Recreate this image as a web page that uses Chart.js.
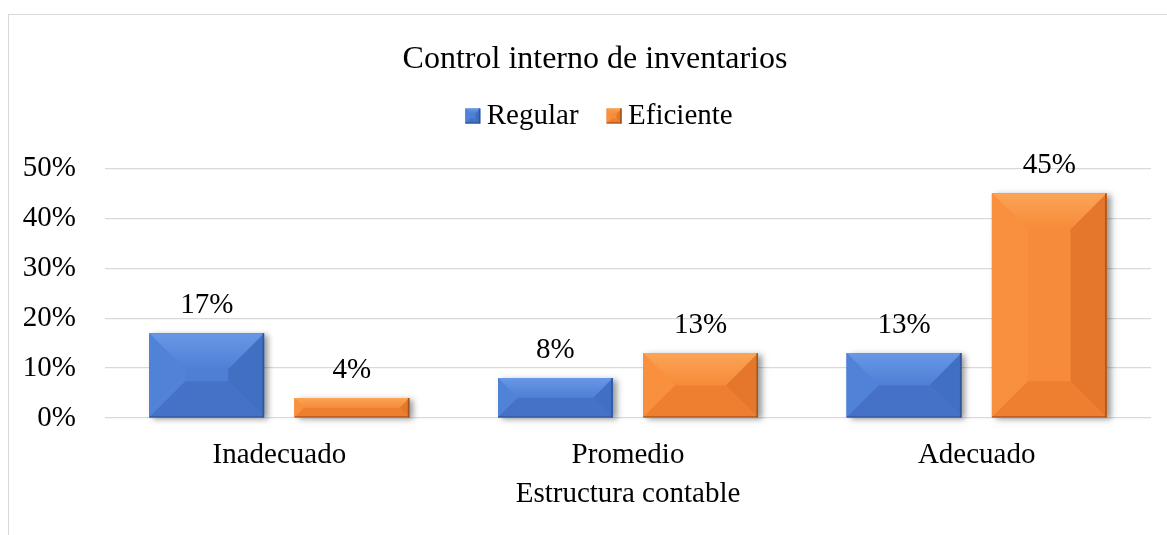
<!DOCTYPE html>
<html>
<head>
<meta charset="utf-8">
<title>Control interno de inventarios</title>
<script src="https://cdn.jsdelivr.net/npm/chart.js@4.4.1/dist/chart.umd.min.js"></script>
<style>
  html, body { margin: 0; padding: 0; background: #fff; overflow: hidden; }
  .frame {
    position: absolute; left: 8px; top: 14px; width: 1400px; height: 800px;
    border-left: 1px solid #d9d9d9; border-top: 1px solid #d9d9d9;
  }
  #chart { position: absolute; left: 0; top: 0; }
</style>
</head>
<body>
<div class="frame"></div>
<canvas id="chart" width="1190" height="535"></canvas>
<script>
const categories = ['Inadecuado', 'Promedio', 'Adecuado'];
const regular = [17, 8, 13];
const eficiente = [4, 13, 45];
const seriesNames = ['Regular', 'Eficiente'];

const serif = "'Liberation Serif', 'Times New Roman', serif";

// colours of the bevelled bars: face and the four sloped edges
const shades = [
  { face: '#4d7fd5', top: '#6898e6', left: '#5083d8', right: '#4170c2', bottom: '#4572c6', edge: '#2f559a' },
  { face: '#f68b39', top: '#fba457', left: '#f8903e', right: '#e4772b', bottom: '#ee7f30', edge: '#a5511a' },
];

function poly(ctx, pts, color) {
  ctx.beginPath();
  ctx.moveTo(pts[0][0], pts[0][1]);
  for (let i = 1; i < pts.length; i++) ctx.lineTo(pts[i][0], pts[i][1]);
  ctx.closePath();
  ctx.fillStyle = color;
  ctx.fill();
}

function bevelBox(ctx, l, t, r, b, maxBevel, c, shadow) {
  const w = r - l;
  const h = b - t;
  const bv = Math.min(maxBevel, h / 2, w / 2);
  if (shadow) {
    ctx.save();
    ctx.shadowColor = 'rgba(0,0,0,0.4)';
    ctx.shadowBlur = 6;
    ctx.shadowOffsetX = 4;
    ctx.shadowOffsetY = 2;
    ctx.fillStyle = c.face;
    ctx.fillRect(l, t, w, h);
    ctx.restore();
  }
  ctx.fillStyle = c.face;
  ctx.fillRect(l, t, w, h);
  poly(ctx, [[l, t], [l + bv, t + bv], [l + bv, b - bv], [l, b]], c.left);
  poly(ctx, [[r, t], [r - bv, t + bv], [r - bv, b - bv], [r, b]], c.right);
  poly(ctx, [[l, b], [r, b], [r - bv, b - bv], [l + bv, b - bv]], c.bottom);
  const g = ctx.createLinearGradient(0, t, 0, t + bv);
  g.addColorStop(0, c.top);
  g.addColorStop(1, c.face);
  poly(ctx, [[l, t], [r, t], [r - bv, t + bv], [l + bv, t + bv]], g);
  ctx.fillStyle = c.edge;
  ctx.fillRect(r - 1.5, t, 1.5, h);
  ctx.fillRect(l, b - 1, w, 1);
}

const bevelBars = {
  id: 'bevelBars',
  beforeLayout(chart) {
    // extra room under the legend
    const lg = chart.legend;
    if (lg && !lg._padded) {
      const fit = lg.fit;
      lg.fit = function () { fit.call(this); this.height += 28; };
      lg._padded = true;
    }
  },
  afterLayout(chart) {
    // let the y tick labels use the space left of the axis
    chart.scales.y.left = 0;
  },
  afterDatasetsDraw(chart) {
    const ctx = chart.ctx;
    chart.data.datasets.forEach((ds, i) => {
      const meta = chart.getDatasetMeta(i);
      meta.data.forEach((bar, j) => {
        const l = bar.x - bar.width / 2;
        const r = bar.x + bar.width / 2;
        bevelBox(ctx, l, bar.y, r, bar.base, 36, shades[i], true);
        ctx.save();
        ctx.font = '29px ' + serif;
        ctx.fillStyle = '#000';
        ctx.textAlign = 'center';
        ctx.textBaseline = 'middle';
        ctx.fillText(ds.data[j] + '%', bar.x, bar.y - 28);
        ctx.restore();
      });
    });
  },
  afterDraw(chart) {
    const lg = chart.legend;
    if (!lg || !lg.legendHitBoxes) return;
    const ctx = chart.ctx;
    lg.legendHitBoxes.forEach((hb, i) => {
      const cy = hb.top + hb.height / 2;
      ctx.fillStyle = '#fff';
      ctx.fillRect(hb.left - 1, cy - 10, 24, 20);
      bevelBox(ctx, hb.left + 8, cy - 7.5, hb.left + 23, cy + 7.5, 5, shades[i], false);
    });
  }
};

new Chart(document.getElementById('chart'), {
  type: 'bar',
  data: {
    labels: categories,
    datasets: [
      { label: seriesNames[0], data: regular, backgroundColor: shades[0].face, borderWidth: 0 },
      { label: seriesNames[1], data: eficiente, backgroundColor: shades[1].face, borderWidth: 0 },
    ],
  },
  options: {
    responsive: false,
    animation: false,
    devicePixelRatio: 1,
    categoryPercentage: 0.833,
    barPercentage: 0.79,
    layout: { padding: { left: 39, right: 39, top: 0, bottom: 23 } },
    plugins: {
      title: {
        display: true,
        text: 'Control interno de inventarios',
        color: '#000',
        font: { family: serif, size: 32, weight: 'normal' },
        padding: { top: 40, bottom: 3 },
      },
      legend: {
        display: true,
        position: 'top',
        labels: {
          color: '#000',
          font: { family: serif, size: 29 },
          boxWidth: 15,
          boxHeight: 15,
          padding: 20,
        },
      },
      tooltip: { enabled: false },
    },
    scales: {
      x: {
        grid: { display: false, drawTicks: false },
        border: { display: false },
        ticks: { color: '#000', font: { family: serif, size: 29 }, padding: 20 },
        title: {
          display: true,
          text: 'Estructura contable',
          color: '#000',
          font: { family: serif, size: 29 },
          padding: { top: 4, bottom: 0 },
        },
        afterFit(scale) { scale.height = 94; },
      },
      y: {
        min: 0,
        max: 50,
        grid: { color: '#d9d9d9', lineWidth: 1.3, drawTicks: false },
        border: { display: false },
        ticks: {
          stepSize: 10,
          color: '#000',
          font: { family: serif, size: 29 },
          padding: 29,
          callback: (v) => v + '%',
        },
        afterFit(scale) { scale.width = 66; },
      },
    },
  },
  plugins: [bevelBars],
});
</script>
</body>
</html>
